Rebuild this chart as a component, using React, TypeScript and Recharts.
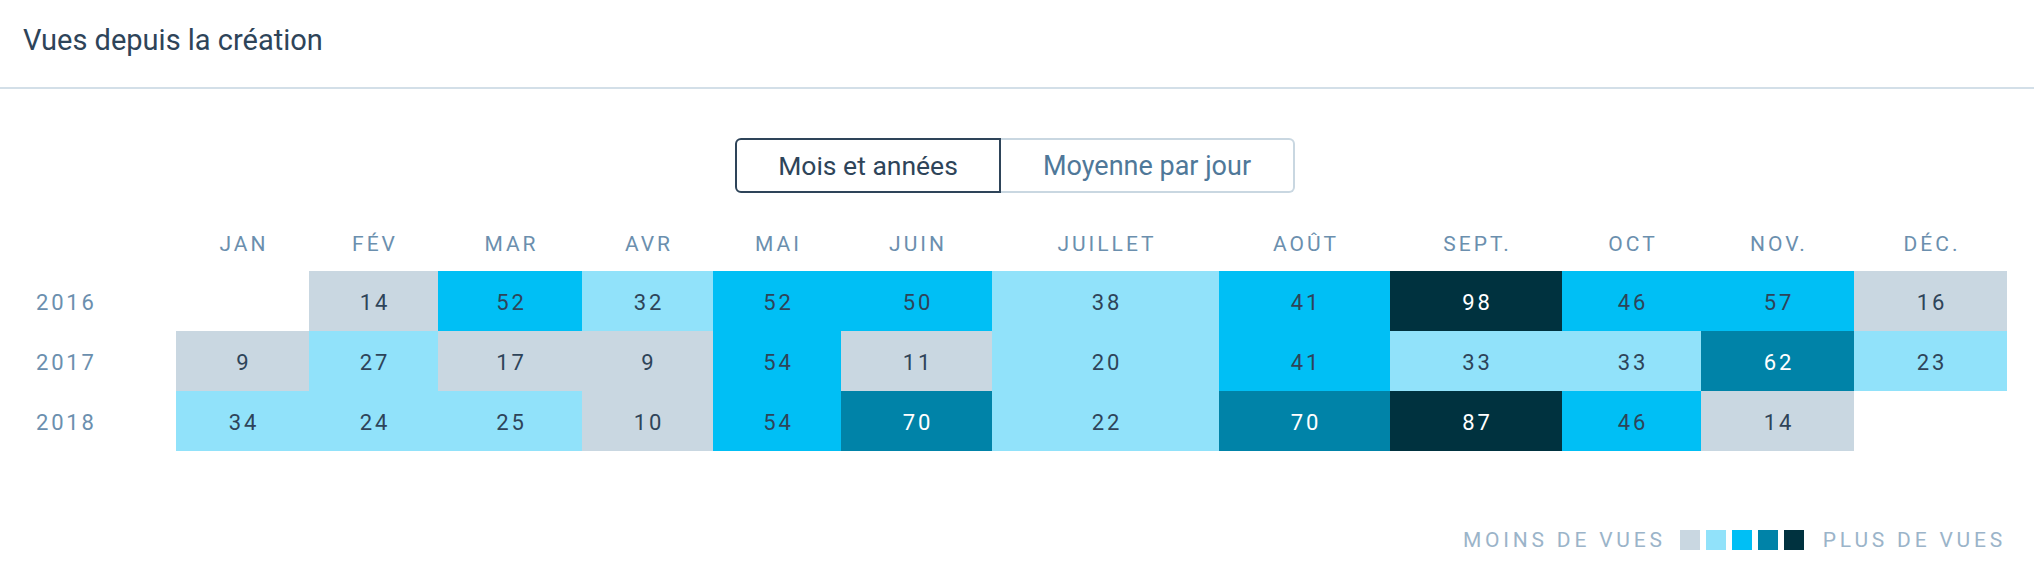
import React from "react"
import { ScatterChart, Scatter, XAxis, YAxis } from "recharts"

const months = ["JAN", "FÉV", "MAR", "AVR", "MAI", "JUIN", "JUILLET", "AOÛT", "SEPT.", "OCT", "NOV.", "DÉC."]
const years = ["2016", "2017", "2018"]
const views2016 = [null, 14, 52, 32, 52, 50, 38, 41, 98, 46, 57, 16]
const views2017 = [9, 27, 17, 9, 54, 11, 20, 41, 33, 33, 62, 23]
const views2018 = [34, 24, 25, 10, 54, 70, 22, 70, 87, 46, 14, null]

// layout only: table column widths (auto-sized by header in the original)
const colWidths = [133, 129, 144, 131, 128, 151, 227, 171, 172, 139, 153, 153]
const palette = ["#c9d7e1", "#91e2fa", "#00bff5", "#0083a8", "#00323f"]

const CHART_W = 2034
const CHART_H = 270
const MARGIN = { top: 21, right: 27, bottom: 19, left: 0 }
const Y_AXIS_W = 176
const X_AXIS_H = 50
const PLOT_W = CHART_W - MARGIN.left - MARGIN.right - Y_AXIS_W
const PLOT_H = CHART_H - MARGIN.top - MARGIN.bottom - X_AXIS_H
const ROW_H = PLOT_H / years.length

const total = colWidths.reduce((a, b) => a + b, 0)
const starts = colWidths.map((_, i) => colWidths.slice(0, i).reduce((a, b) => a + b, 0))
const centers = colWidths.map((w, i) => starts[i] + w / 2)

const allViews = [views2016, views2017, views2018]
const maxViews = Math.max(...allViews.flat().filter((v): v is number => v != null))

const colorFor = (v: number) => palette[Math.min(palette.length - 1, Math.floor((v / maxViews) * palette.length - 1e-9))]

const cells = allViews.flatMap((row, r) =>
    row.flatMap((v, c) => (v == null ? [] : [{ x: centers[c], y: years[r], views: v, w: colWidths[c] }]))
)

const font = "Roboto, 'Noto Sans', sans-serif"

const CellShape = (props: any) => {
    const { cx, cy, payload } = props
    const w = (payload.w * PLOT_W) / total
    const x0 = Math.round(cx - w / 2)
    const x1 = Math.round(cx + w / 2)
    const y0 = Math.round(cy - ROW_H / 2)
    const idx = palette.indexOf(colorFor(payload.views))
    return (
        <g>
            <rect x={x0} y={y0} width={x1 - x0} height={Math.round(ROW_H)} fill={colorFor(payload.views)} shapeRendering="crispEdges" />
            <text
                x={cx + 1.5}
                y={cy + 1}
                textAnchor="middle"
                dominantBaseline="central"
                fontFamily={font}
                fontSize={22}
                letterSpacing={3}
                fill={idx >= 3 ? "#ffffff" : "#2e4459"}
            >
                {payload.views}
            </text>
        </g>
    )
}

const MonthTick = (props: any) => {
    const { x, y, payload } = props
    const i = centers.indexOf(payload.value)
    return (
        <text x={x + 1.5} y={y - 27} textAnchor="middle" dominantBaseline="central" fontFamily={font} fontSize={21} letterSpacing={3} fill="#6b8fae">
            {months[i]}
        </text>
    )
}

const YearTick = (props: any) => {
    const { y, payload } = props
    return (
        <text x={36} y={y + 1} textAnchor="start" dominantBaseline="central" fontFamily={font} fontSize={22} letterSpacing={2.8} fill="#6b8fae">
            {payload.value}
        </text>
    )
}

export default function App() {
    return (
        <div style={{ position: "absolute", left: 0, top: 0, width: 2034, height: 572, background: "#fff", fontFamily: font, overflow: "hidden" }}>
            <div style={{ position: "absolute", left: 23, top: 22, height: 36, lineHeight: "36px", fontSize: 29, color: "#2e4459" }}>Vues depuis la création</div>
            <div style={{ position: "absolute", left: 0, top: 87, width: 2034, height: 2, background: "#d3dfe8" }} />

            <div
                style={{
                    position: "absolute", left: 735, top: 138, width: 266, height: 55, boxSizing: "border-box",
                    border: "2px solid #2e4459", borderRadius: "6px 0 0 6px", display: "flex", alignItems: "center",
                    justifyContent: "center", fontSize: 26.5, color: "#2e4459",
                }}
            >
                Mois et années
            </div>
            <div
                style={{
                    position: "absolute", left: 1001, top: 138, width: 294, height: 55, boxSizing: "border-box",
                    border: "2px solid #c9d7e1", borderLeft: "none", borderRadius: "0 6px 6px 0", display: "flex",
                    alignItems: "center", justifyContent: "center", fontSize: 27, color: "#4f7899",
                }}
            >
                Moyenne par jour
            </div>

            <div style={{ position: "absolute", left: 0, top: 200 }}>
                <ScatterChart width={CHART_W} height={CHART_H} margin={MARGIN}>
                    <XAxis
                        type="number"
                        dataKey="x"
                        orientation="top"
                        domain={[0, total]}
                        ticks={centers}
                        interval={0}
                        height={X_AXIS_H}
                        axisLine={false}
                        tickLine={false}
                        tickSize={0}
                        tickMargin={0}
                        tick={<MonthTick />}
                    />
                    <YAxis
                        type="category"
                        dataKey="y"
                        allowDuplicatedCategory={false}
                        reversed
                        width={Y_AXIS_W}
                        axisLine={false}
                        tickLine={false}
                        tickSize={0}
                        tickMargin={0}
                        tick={<YearTick />}
                    />
                    <Scatter data={cells} shape={<CellShape />} isAnimationActive={false} />
                </ScatterChart>
            </div>

            <div style={{ position: "absolute", right: 28, top: 528, height: 24, display: "flex", alignItems: "center", fontSize: 21, letterSpacing: 3.8, color: "#9bb4c9" }}>
                <span style={{ marginRight: 14 }}>MOINS DE VUES</span>
                {palette.map((c) => (
                    <span key={c} style={{ width: 20, height: 20, background: c, marginRight: 6 }} />
                ))}
                <span style={{ marginLeft: 13 }}>PLUS DE VUES</span>
            </div>
        </div>
    )
}
